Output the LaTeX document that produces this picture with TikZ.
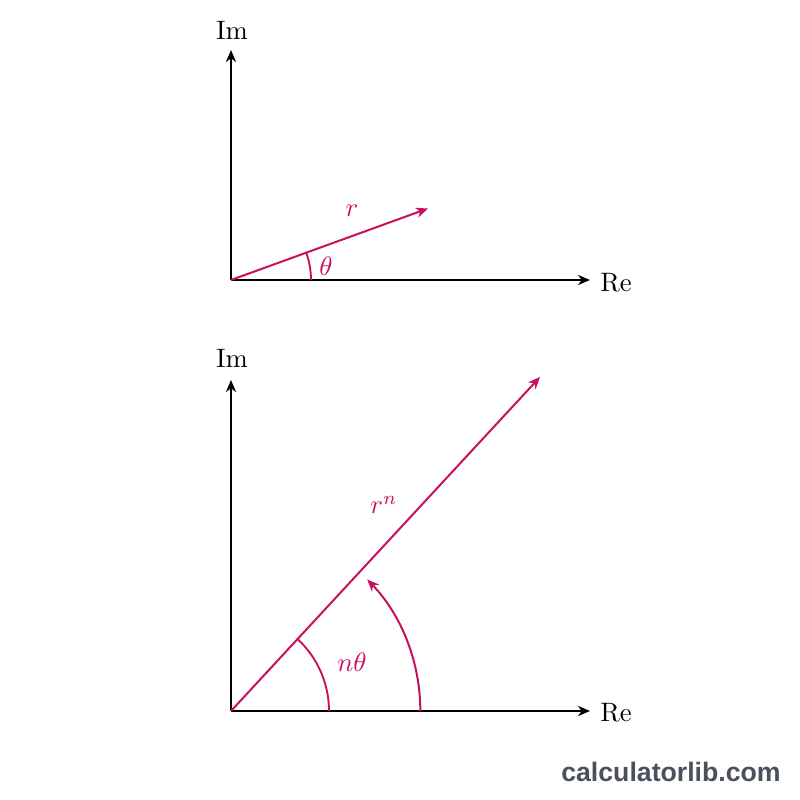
\documentclass[tikz,border=0pt]{standalone}
\usepackage{fontspec}
\newfontfamily\wmfont{Liberation Sans}
\usetikzlibrary{arrows.meta}
\definecolor{vec}{RGB}{200,16,96}
\definecolor{wm}{RGB}{75,80,94}
\begin{document}
\begin{tikzpicture}[x=0.375pt,y=0.375pt,
  axis/.style={line width=0.7pt,-{Stealth[length=4.5pt,width=3.8pt,inset=1.4pt]}},
  vecline/.style={vec,line width=0.75pt,-{Stealth[length=4.5pt,width=3.8pt,inset=1.4pt]}},
  anglearc/.style={vec,line width=0.7pt},
  lbl/.style={inner sep=0pt},
  vlbl/.style={inner sep=0pt,text=vec}]
\fill[white] (0,0) rectangle (800,800);
\useasboundingbox (0,0) rectangle (800,800);
% top diagram
\coordinate (O1) at (231,520);
\coordinate (Y1) at (231,750);
\coordinate (X1) at (590,520);
\coordinate (R1) at (428,591.5);
\draw[axis] (O1) -- (Y1);
\draw[axis] (O1) -- (X1);
\draw[vecline] (O1) -- (R1);
\draw[anglearc] (O1) ++(0:30pt) arc[start angle=0,end angle=20,radius=30pt];
\node[lbl] (im1) at (232,770) {Im};
\node[lbl] (re1) at (616,517) {Re};
\node[vlbl] (r1) at (352,589) {$r$};
\node[vlbl] (t1) at (326,534) {$\theta$};
% bottom diagram
\coordinate (O2) at (231,89);
\coordinate (Y2) at (231,420);
\coordinate (X2) at (590,89);
\coordinate (R2) at (540,423);
\draw[axis] (O2) -- (Y2);
\draw[axis] (O2) -- (X2);
\draw[vecline] (O2) -- (R2);
\draw[anglearc] (O2) ++(0:36.75pt) arc[start angle=0,end angle=47.2,radius=36.75pt];
\draw[vecline] (O2) ++(0:71pt) arc[start angle=0,end angle=44,radius=71pt];
\node[lbl] (im2) at (232,442) {Im};
\node[lbl] (re2) at (616,87) {Re};
\node[vlbl] (r2) at (384,295) {$r^n$};
\node[vlbl] (t2) at (352,138) {$n\theta$};
% watermark
\node[lbl,text=wm,font=\wmfont\bfseries\fontsize{10}{12}\selectfont] (wm) at (671,28) {calculatorlib.com};
\end{tikzpicture}
\end{document}
